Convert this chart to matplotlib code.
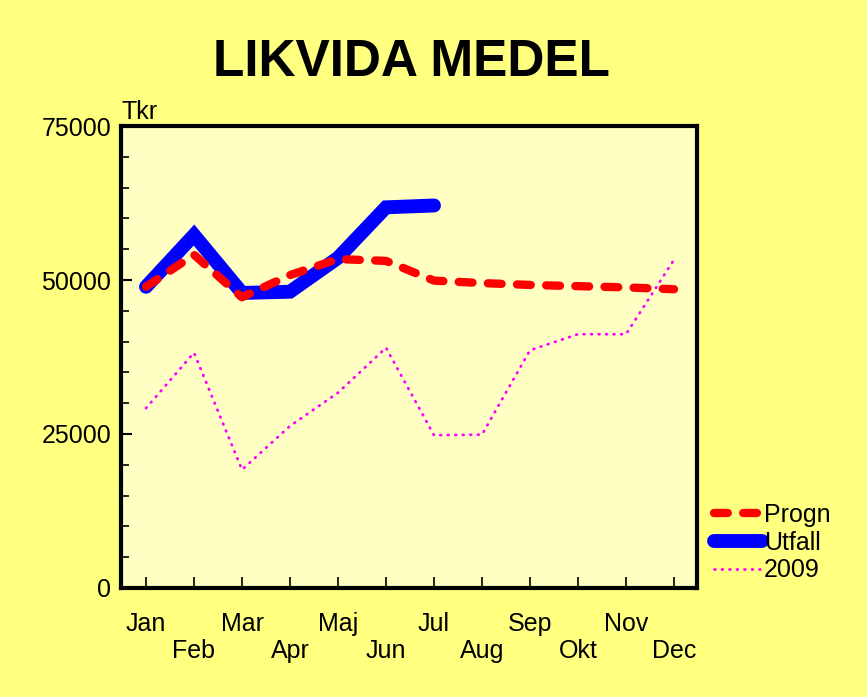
#!/usr/bin/env python3

import numpy as np
import matplotlib
matplotlib.use("Agg")
import matplotlib.pyplot as plt
from matplotlib.ticker import MultipleLocator

plt.rcParams['font.family'] = ['Liberation Sans', 'DejaVu Sans']

# data (Tkr)
months = ['Jan', 'Feb', 'Mar', 'Apr', 'Maj', 'Jun', 'Jul', 'Aug', 'Sep', 'Okt', 'Nov', 'Dec']
progn = [48900, 54100, 47200, 50800, 53400, 53100, 49900, 49500, 49200, 49000, 48800, 48500]
utfall = [48900, 57300, 47900, 48100, 53600, 61800, 62100]
y2009 = [29200, 38200, 19200, 26300, 31700, 39000, 24800, 24900, 38600, 41200, 41200, 53300]

fig = plt.figure(figsize=(8.67, 6.97), dpi=100)
fig.patch.set_facecolor('#ffff80')
ax = fig.add_axes([0.1396, 0.1564, 0.6644, 0.6628])
ax.set_facecolor('#ffffc4')

x = np.arange(len(months))

ax.plot(x, progn, color='#ff0000', lw=6, dashes=(1.65, 1.85), dash_capstyle='round',
        solid_capstyle='round', label='Progn', zorder=3)
ax.plot(x[:len(utfall)], utfall, color='#0000ff', lw=10, solid_capstyle='round',
        solid_joinstyle='miter', label='Utfall', zorder=2)
ax.plot(x, y2009, color='#ff00ff', lw=2, dashes=(0.3, 2.4), dash_capstyle='round',
        label='2009', zorder=2)

ax.set_xlim(-0.52, 11.48)
ax.set_ylim(0, 75000)

ax.yaxis.set_major_locator(MultipleLocator(25000))
ax.yaxis.set_minor_locator(MultipleLocator(5000))
ax.tick_params(axis='y', which='major', direction='in', length=8, width=1.5, labelsize=18, pad=7)
ax.tick_params(axis='y', which='minor', direction='in', length=6, width=1.2)

ax.set_xticks(x)
ax.set_xticklabels([m if i % 2 == 0 else '\n' + m for i, m in enumerate(months)], linespacing=1.2)
ax.tick_params(axis='x', direction='in', length=8, width=1.2, labelsize=18, pad=17)

for s in ax.spines.values():
    s.set_linewidth(3)

ax.text(0.0, 1.004, 'Tkr', transform=ax.transAxes, fontsize=18, ha='left', va='bottom')

fig.text(0.475, 0.91, 'LIKVIDA MEDEL', fontsize=37, fontweight='bold', ha='center', va='center')

leg = ax.legend(loc='lower left', bbox_to_anchor=(0.812, 0.15), bbox_transform=fig.transFigure,
                frameon=False, fontsize=18, handlelength=1.9, handletextpad=0.1,
                labelspacing=0.15, borderaxespad=0)

fig.savefig('out.png', dpi=100, facecolor=fig.get_facecolor())
